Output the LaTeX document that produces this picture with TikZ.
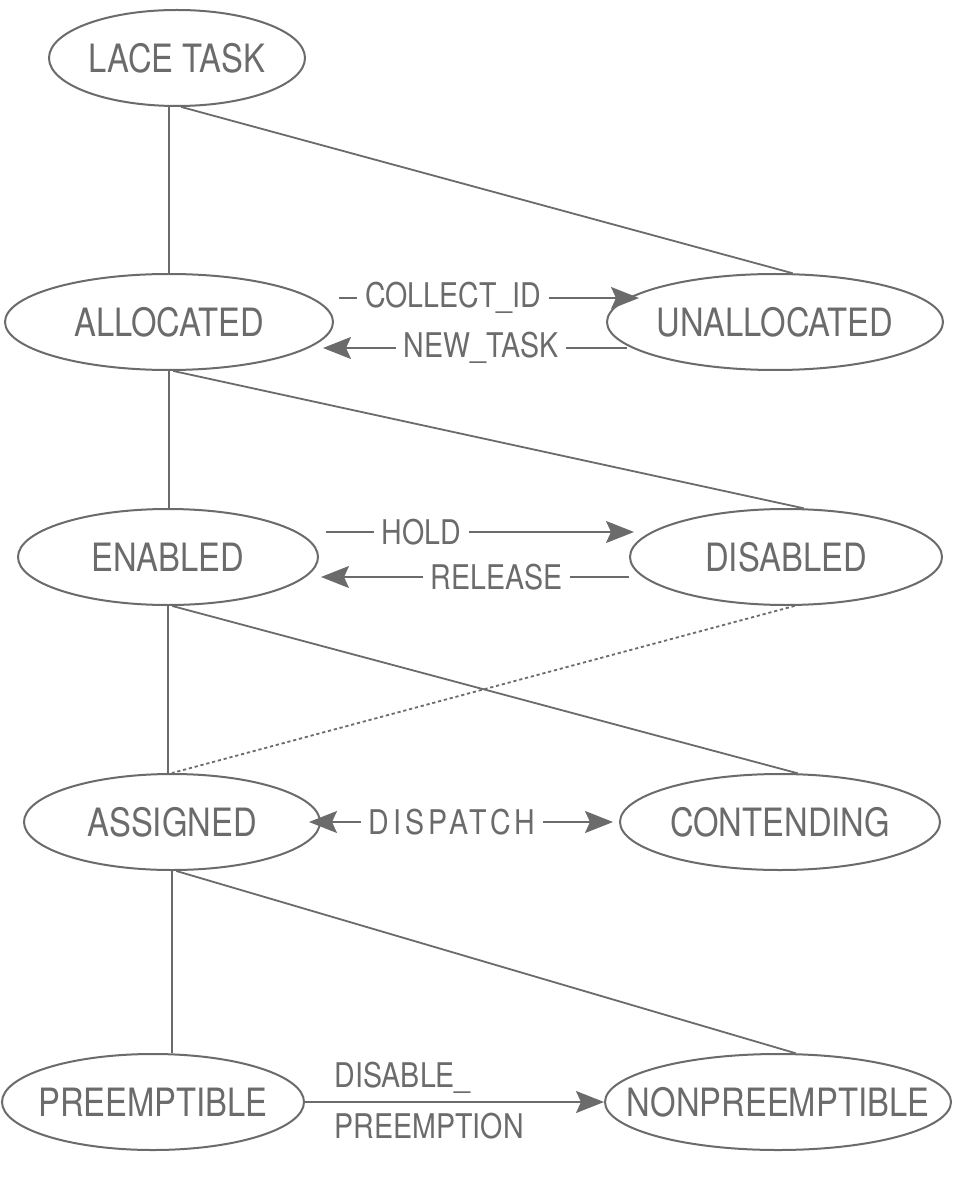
\documentclass[tikz,border=0pt]{standalone}
\usepackage{fontspec}
\setmainfont{TeX Gyre Heros}[FakeStretch=0.84]
\usetikzlibrary{arrows.meta,shapes.geometric}
\definecolor{ink}{gray}{0.42}
\newcommand{\stname}[1]{\makebox[0pt]{#1}}

\tikzset{
  state/.style={ellipse,draw=ink,line width=1pt,inner sep=0pt,minimum height=48pt,
    text=ink,font=\fontsize{19.5}{22}\selectfont},
  link/.style={draw=ink,line width=0.9pt},
  stem/.style={draw=ink,line width=0.6pt},
  tip/.tip={Stealth[length=14pt,width=11pt,inset=2.5pt]},
  arr/.style={link,-tip},
  tag/.style={fill=white,text=ink,inner xsep=4pt,inner ysep=1pt,
    font=\fontsize{17}{20}\selectfont},
}

\begin{document}
\begin{tikzpicture}[x=0.5pt,y=-0.5pt]
\useasboundingbox[fill=white] (0,0) rectangle (955,1187);

\node[state,minimum width=128pt] (lace) at (177,58) {\stname{LACE TASK}};
\node[state,minimum width=164pt] (alloc) at (169,322) {\stname{ALLOCATED}};
\node[state,minimum width=168pt] (unalloc) at (775,322) {\stname{UNALLOCATED}};
\node[state,minimum width=150pt] (enab) at (168,557) {\stname{ENABLED}};
\node[state,minimum width=156pt] (disab) at (786,557) {\stname{DISABLED}};
\node[state,minimum width=148pt] (assign) at (172,822) {\stname{ASSIGNED}};
\node[state,minimum width=160pt] (contend) at (780,822) {\stname{CONTENDING}};
\node[state,minimum width=151pt] (preempt) at (153,1102) {\stname{PREEMPTIBLE}};
\node[state,minimum width=173pt] (nonpre) at (778,1102) {\stname{NONPREEMPTIBLE}};

% hierarchy
\draw[stem] (alloc.north |- lace.south) -- (alloc.north);
\draw[stem] (alloc.south) -- (alloc.south |- enab.north);
\draw[stem] (enab.south) -- (enab.south |- assign.north);
\draw[stem] (assign.south) -- (assign.south |- preempt.north);
\draw[link] (lace.-85) -- (unalloc.70);
\draw[link] (alloc.-85) -- (disab.70);
\draw[link] (enab.-85) -- (contend.70);
\draw[link] (assign.-85) -- (nonpre.70);
\draw[link,dash pattern=on 1.6pt off 1.4pt] (disab.-80) -- (assign.north);

% transitions
\draw[arr] ([shift={(5,-24)}]alloc.east) -- ([shift={(33,-24)}]unalloc.west)
  node[tag,pos=0.38] {COLLECT\_ID};
\draw[arr] ([shift={(21,26)}]unalloc.west) -- ([shift={(-11,26)}]alloc.east)
  node[tag,pos=0.48] {NEW\_TASK};
\draw[arr] ([shift={(7,-25)}]enab.east) -- ([shift={(5,-25)}]disab.west)
  node[tag,pos=0.31] {HOLD};
\draw[arr] ([shift={(0,20)}]disab.west) -- ([shift={(2,20)}]enab.east)
  node[tag,pos=0.43] {RELEASE};
\draw[link,tip-tip] ([xshift=-6]assign.east) -- ([xshift=-3]contend.west)
  node[tag,pos=0.47] {\addfontfeature{LetterSpace=12}DISPATCH};
\draw[arr] (preempt.east) -- (nonpre.west)
  node[tag,fill=none,pos=0.07,above right,yshift=3pt] {DISABLE\_}
  node[tag,fill=none,pos=0.07,below right,yshift=-4pt] {PREEMPTION};
\end{tikzpicture}
\end{document}
